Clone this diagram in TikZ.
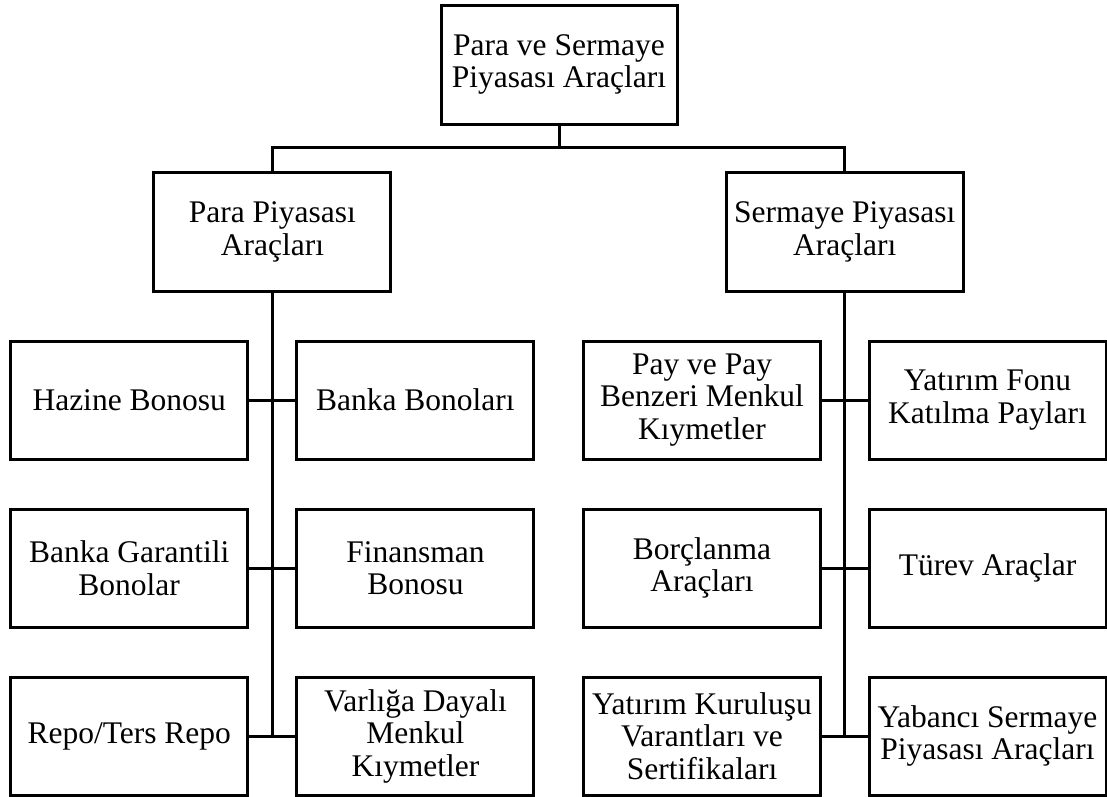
\documentclass[tikz,border=0pt]{standalone}
\usepackage{fontspec}
\setmainfont{Liberation Serif}
\begin{document}
\begin{tikzpicture}[x=1pt,y=-1pt,
  box/.style={draw=black,line width=3pt,inner sep=0pt,align=center,
    minimum width=237pt,minimum height=118pt,
    font=\fontsize{31.5}{32.5}\selectfont},
  conn/.style={draw=black,line width=3pt}]
\useasboundingbox (0,0) rectangle (1107,796);
\node[box,minimum width=236pt,minimum height=119pt] (top) at (559,64.5) {Para ve Sermaye\\Piyasası Araçları};
\node[box,minimum height=119pt] (pp) at (272.4,232) {Para Piyasası\\Araçları};
\node[box,minimum height=119pt] (sp) at (844.7,232) {Sermaye Piyasası\\Araçları};
% left group
\node[box] (a1) at (129.2,400) {Hazine Bonosu};
\node[box] (a2) at (415.4,400) {Banka Bonoları};
\node[box] (a3) at (129.2,568) {Banka Garantili\\Bonolar};
\node[box] (a4) at (415.4,568) {Finansman\\Bonosu};
\node[box] (a5) at (129.2,736) {Repo/Ters Repo};
\node[box] (a6) at (415.4,736) {Varlığa Dayalı\\Menkul\\Kıymetler};
% right group
\node[box] (b1) at (702,400) {Pay ve Pay\\Benzeri Menkul\\Kıymetler};
\node[box] (b2) at (987.5,400) {Yatırım Fonu\\Katılma Payları};
\node[box] (b3) at (702,568) {Borçlanma\\Araçları};
\node[box] (b4) at (987.5,568) {Türev Araçlar};
\node[box] (b5) at (702,736) {Yatırım Kuruluşu\\Varantları ve\\Sertifikaları};
\node[box] (b6) at (987.5,736) {Yabancı Sermaye\\Piyasası Araçları};
% connectors
\coordinate (j) at (559,147);
\draw[conn] (top.south) -- (j);
\draw[conn] (pp.north) -- (pp.north |- j) -- (sp.north |- j) -- (sp.north);
\coordinate (pe) at (272.4,736);
\coordinate (se) at (844.7,736);
\draw[conn] (pp.south) -- (pe);
\draw[conn] (sp.south) -- (se);
\draw[conn] (a1.east) -- (a2.west);
\draw[conn] (a3.east) -- (a4.west);
\draw[conn] (a5.east) -- (a6.west);
\draw[conn] (b1.east) -- (b2.west);
\draw[conn] (b3.east) -- (b4.west);
\draw[conn] (b5.east) -- (b6.west);
\end{tikzpicture}
\end{document}
